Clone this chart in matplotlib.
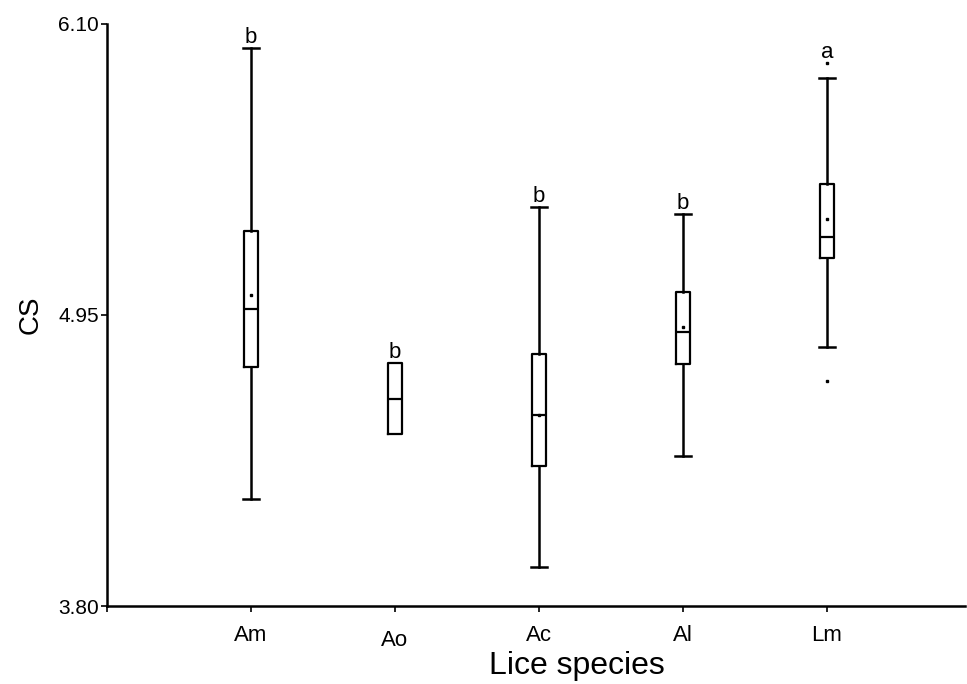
import matplotlib
matplotlib.use("Agg")
import matplotlib.pyplot as plt

plt.rcParams['font.family'] = ['Liberation Sans', 'DejaVu Sans']

species = ["Am", "Ao", "Ac", "Al", "Lm"]
whisker_low = [4.223, None, 3.953, 4.393, 4.822]
q1 = [4.743, 4.478, 4.354, 4.756, 5.176]
median = [4.972, 4.617, 4.553, 4.881, 5.257]
q3 = [5.283, 4.759, 4.794, 5.040, 5.466]
whisker_high = [6.004, None, 5.378, 5.348, 5.888]
means = [5.029, 4.617, 4.556, 4.904, 5.329]
outliers = [[], [], [], [], [4.690, 5.946]]
letters = ["b", "b", "b", "b", "a"]

yticks = [3.80, 4.95, 6.10]

fig = plt.figure(figsize=(9.67, 6.84), dpi=100)
ax = fig.add_axes([0.1107, 0.114, 0.8873, 0.851])

stats = []
for i, name in enumerate(species):
    wl = whisker_low[i] if whisker_low[i] is not None else q1[i]
    wh = whisker_high[i] if whisker_high[i] is not None else q3[i]
    stats.append(dict(label=name, q1=q1[i], med=median[i], q3=q3[i],
                      whislo=wl, whishi=wh, fliers=outliers[i],
                      mean=means[i]))

positions = list(range(1, len(species) + 1))
res = ax.bxp(stats, positions=positions, widths=0.1,
             showmeans=True, showfliers=True, patch_artist=False,
             boxprops=dict(color='black', linewidth=1.6),
             medianprops=dict(color='black', linewidth=1.6),
             whiskerprops=dict(color='black', linewidth=1.8),
             capprops=dict(color='black', linewidth=1.8),
             capwidths=0.11,
             meanprops=dict(marker='s', markersize=1.6, markerfacecolor='black',
                            markeredgecolor='black'),
             flierprops=dict(marker='s', markersize=1.6, markerfacecolor='black',
                             markeredgecolor='black'))

# boxes without whiskers get no caps and no visible mean
for i in range(len(species)):
    if whisker_low[i] is None:
        res['caps'][2 * i].set_visible(False)
        res['whiskers'][2 * i].set_visible(False)
    if whisker_high[i] is None:
        res['caps'][2 * i + 1].set_visible(False)
        res['whiskers'][2 * i + 1].set_visible(False)
    if whisker_low[i] is None and whisker_high[i] is None:
        res['means'][i].set_visible(False)

for i, lab in enumerate(letters):
    top = whisker_high[i] if whisker_high[i] is not None else q3[i]
    if outliers[i]:
        top = max([top] + outliers[i])
    ax.annotate(lab, (positions[i], top), xytext=(0, 0),
                textcoords='offset points', ha='center', va='bottom',
                fontsize=16)

ax.set_xlim(0, 5.96)
ax.set_ylim(3.80, 6.10)
ax.set_xticks([0] + positions)
ax.set_xticklabels([""] + species, fontsize=16)
ax.set_yticks(yticks)
ax.set_yticklabels([f"{v:.2f}" for v in yticks], fontsize=15)
ax.tick_params(axis='both', direction='out', length=4, width=1.2, colors='black')
ax.tick_params(axis='x', pad=10)
ax.tick_params(axis='y', pad=2)
for lbl in ax.get_xticklabels():
    if lbl.get_text() == "Ao":
        lbl.set_y(-0.008)

ax.spines['top'].set_visible(False)
ax.spines['right'].set_visible(False)
ax.spines['left'].set_linewidth(1.8)
ax.spines['bottom'].set_linewidth(1.8)

ax.set_xlabel("Lice species", fontsize=23)
ax.xaxis.set_label_coords(0.547, -0.078, transform=ax.transAxes)
ax.xaxis.label.set_va('top')
ax.set_ylabel("CS", fontsize=20, labelpad=10)

fig.savefig("out.png", dpi=100)
